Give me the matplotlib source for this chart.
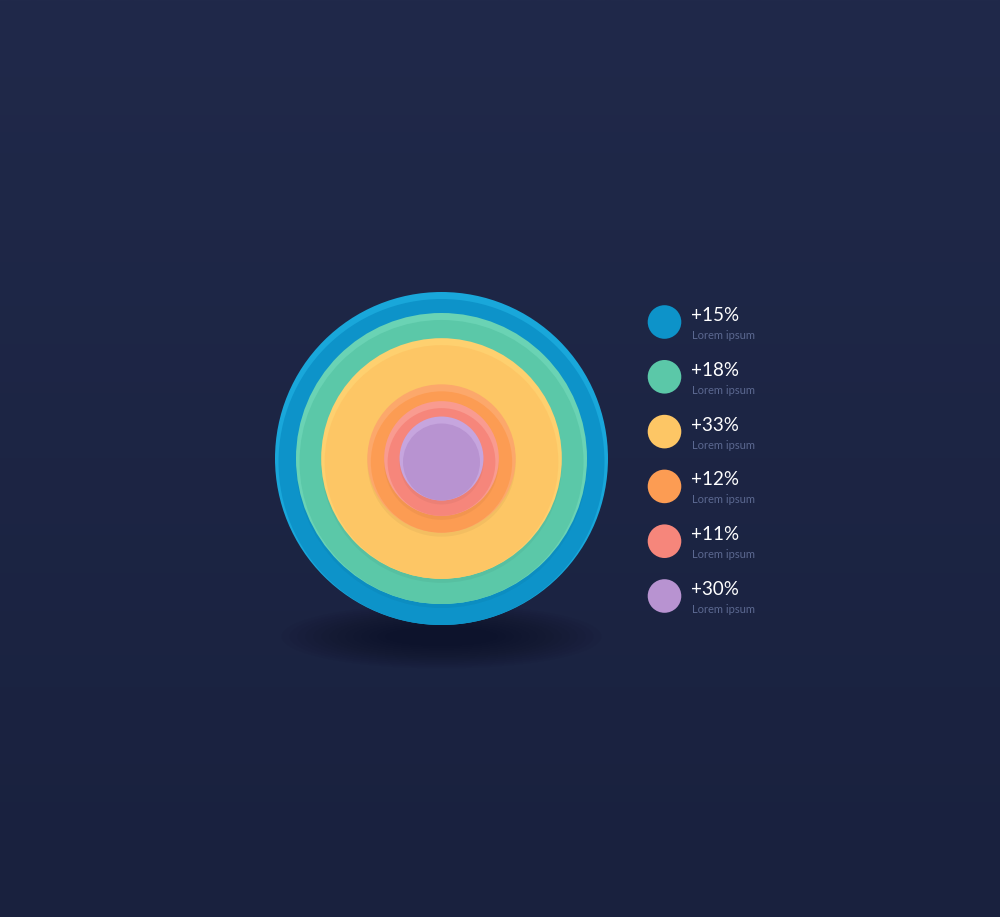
import numpy as np
import matplotlib
matplotlib.use("Agg")
import matplotlib.pyplot as plt
from matplotlib.patches import Circle, Ellipse

# data (outer ring first)
labels = ["+15%", "+18%", "+33%", "+12%", "+11%", "+30%"]
values = [15, 18, 33, 12, 11, 30]
sublabels = ["Lorem ipsum"] * 6
colors = ["#0d93c9", "#5bc8a8", "#fdc665", "#fc9c53", "#f6867b", "#b893d1"]
highlights = ["#19a7da", "#6ad3b4", "#fed06f", "#fca86b", "#f99b90", "#c6a5de"]

W, H = 1000, 917
fig = plt.figure(figsize=(W / 100, H / 100), dpi=100)
ax = fig.add_axes([0, 0, 1, 1])
ax.set_xlim(0, W)
ax.set_ylim(H, 0)
ax.set_aspect("equal")
ax.axis("off")

# background gradient
top = np.array([0x20, 0x29, 0x4a]) / 255
bot = np.array([0x19, 0x21, 0x3e]) / 255
t = np.linspace(0, 1, 512)[:, None, None]
grad = top * (1 - t) + bot * t
grad = np.repeat(grad, 2, axis=1)
ax.imshow(grad, extent=[0, W, H, 0], aspect="auto", zorder=0,
          interpolation="bilinear")

# concentric rings - radius grows with cumulative value from the centre
cx, cy = 441.5, 458.5
scale = 166.5 / sum(values)
radii = np.cumsum(values[::-1])[::-1] * scale
d = 3.5

# soft shadow under the chart
for k in range(14):
    ax.add_patch(Ellipse((cx, cy + 178), 320 - k * 16, 64 - k * 3.5,
                         color="#0d1226", alpha=0.07, lw=0, zorder=2))

for i, (r, c, hc) in enumerate(zip(radii, colors, highlights)):
    z = 3 + i * 3
    if i > 0:
        ax.add_patch(Circle((cx, cy + 4), r, color="#000000", alpha=0.04,
                            lw=0, zorder=z))
    ax.add_patch(Circle((cx, cy), r, color=hc, lw=0, zorder=z + 1))
    ax.add_patch(Circle((cx, cy + d), r - d, color=c, lw=0, zorder=z + 2))

# legend
lx, ly0, step = 664.5, 322, 54.8
for i, (lab, sub, c) in enumerate(zip(labels, sublabels, colors)):
    y = ly0 + i * step
    ax.add_patch(Circle((lx, y), 16.8, color=c, lw=0, zorder=30))
    ax.text(691, y - 1, lab, fontsize=13.5, family="Lato", color="#ffffff",
            ha="left", va="baseline", zorder=31)
    ax.text(691.5, y + 17, sub, fontsize=8, family="Lato", color="#5b6890",
            ha="left", va="baseline", zorder=31)

fig.savefig("out.png", dpi=100, facecolor="#1c2442")
